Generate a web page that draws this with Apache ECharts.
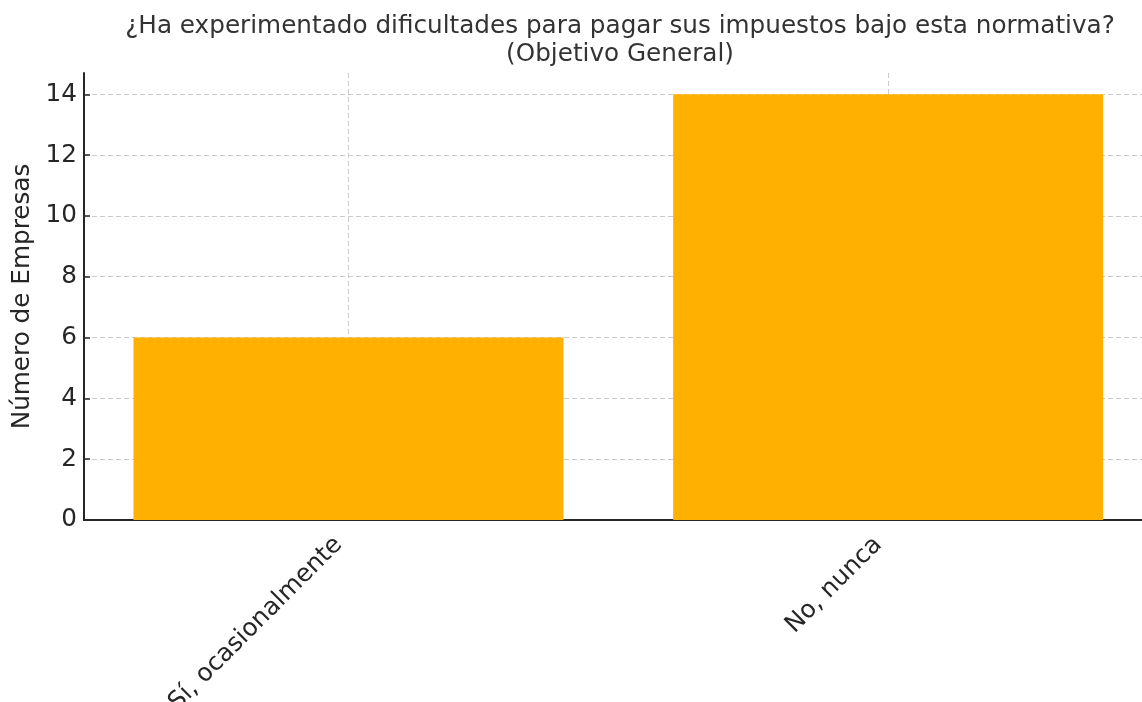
<!DOCTYPE html>
<html>
<head>
<meta charset="utf-8">
<script src="https://cdn.jsdelivr.net/npm/echarts@6/dist/echarts.min.js"></script>
<style>
  html, body { margin: 0; padding: 0; background: #fff; }
  #chart { width: 1142px; height: 702px; }
</style>
</head>
<body>
<div id="chart"></div>
<script>
const titleText = '¿Ha experimentado dificultades para pagar sus impuestos bajo esta normativa?\n(Objetivo General)';
const categories = ['Sí, ocasionalmente', 'No, nunca'];
const values = [6, 14];
const yTicks = [0, 2, 4, 6, 8, 10, 12, 14];
const yLabel = 'Número de Empresas';

const FONT = 'DejaVu Sans';
const FS = 24.7;
const catIdx = categories.map((c, i) => i);

const chart = echarts.init(document.getElementById('chart'), null, { renderer: 'canvas' });
chart.setOption({
  animation: false,
  backgroundColor: '#ffffff',
  title: {
    text: titleText,
    left: 615,
    top: 8,
    textAlign: 'center',
    textStyle: { fontFamily: FONT, fontSize: FS, fontWeight: 'normal', color: '#333333', lineHeight: 28 }
  },
  grid: { left: 84, top: 73, width: 1068.6, height: 447, containLabel: false, outerBoundsMode: 'none' },
  xAxis: {
    type: 'value',
    min: -0.49,
    max: 1.49,
    axisLine: { show: true, onZero: false, lineStyle: { color: '#262626', width: 2 } },
    axisTick: { show: true, inside: true, length: 6, customValues: catIdx, lineStyle: { color: '#262626', width: 1.5 } },
    axisLabel: {
      customValues: catIdx,
      rotate: 45,
      margin: 11,
      padding: [0, 14, 0, 0],
      formatter: v => categories[Math.round(v)],
      fontFamily: FONT, fontSize: FS, color: '#262626'
    },
    splitLine: { show: true, lineStyle: { color: '#cccccc', type: [5, 3], width: 1 } }
  },
  yAxis: {
    type: 'value',
    min: 0,
    max: 14.7,
    name: yLabel,
    nameLocation: 'middle',
    nameGap: 48,
    nameTextStyle: { fontFamily: FONT, fontSize: FS, color: '#262626' },
    axisLine: { show: true, onZero: false, lineStyle: { color: '#262626', width: 2 } },
    axisTick: { show: true, inside: true, length: 6, customValues: yTicks, lineStyle: { color: '#262626', width: 1.5 } },
    axisLabel: { customValues: yTicks, margin: 7, fontFamily: FONT, fontSize: FS, color: '#262626' },
    splitLine: { show: true, lineStyle: { color: '#cccccc', type: [5, 3], width: 1 } }
  },
  series: [{
    type: 'bar',
    data: catIdx.map(i => [i, values[i]]),
    barWidth: 430,
    itemStyle: { color: '#FFB000' },
    z: 3
  }]
});
</script>
</body>
</html>
